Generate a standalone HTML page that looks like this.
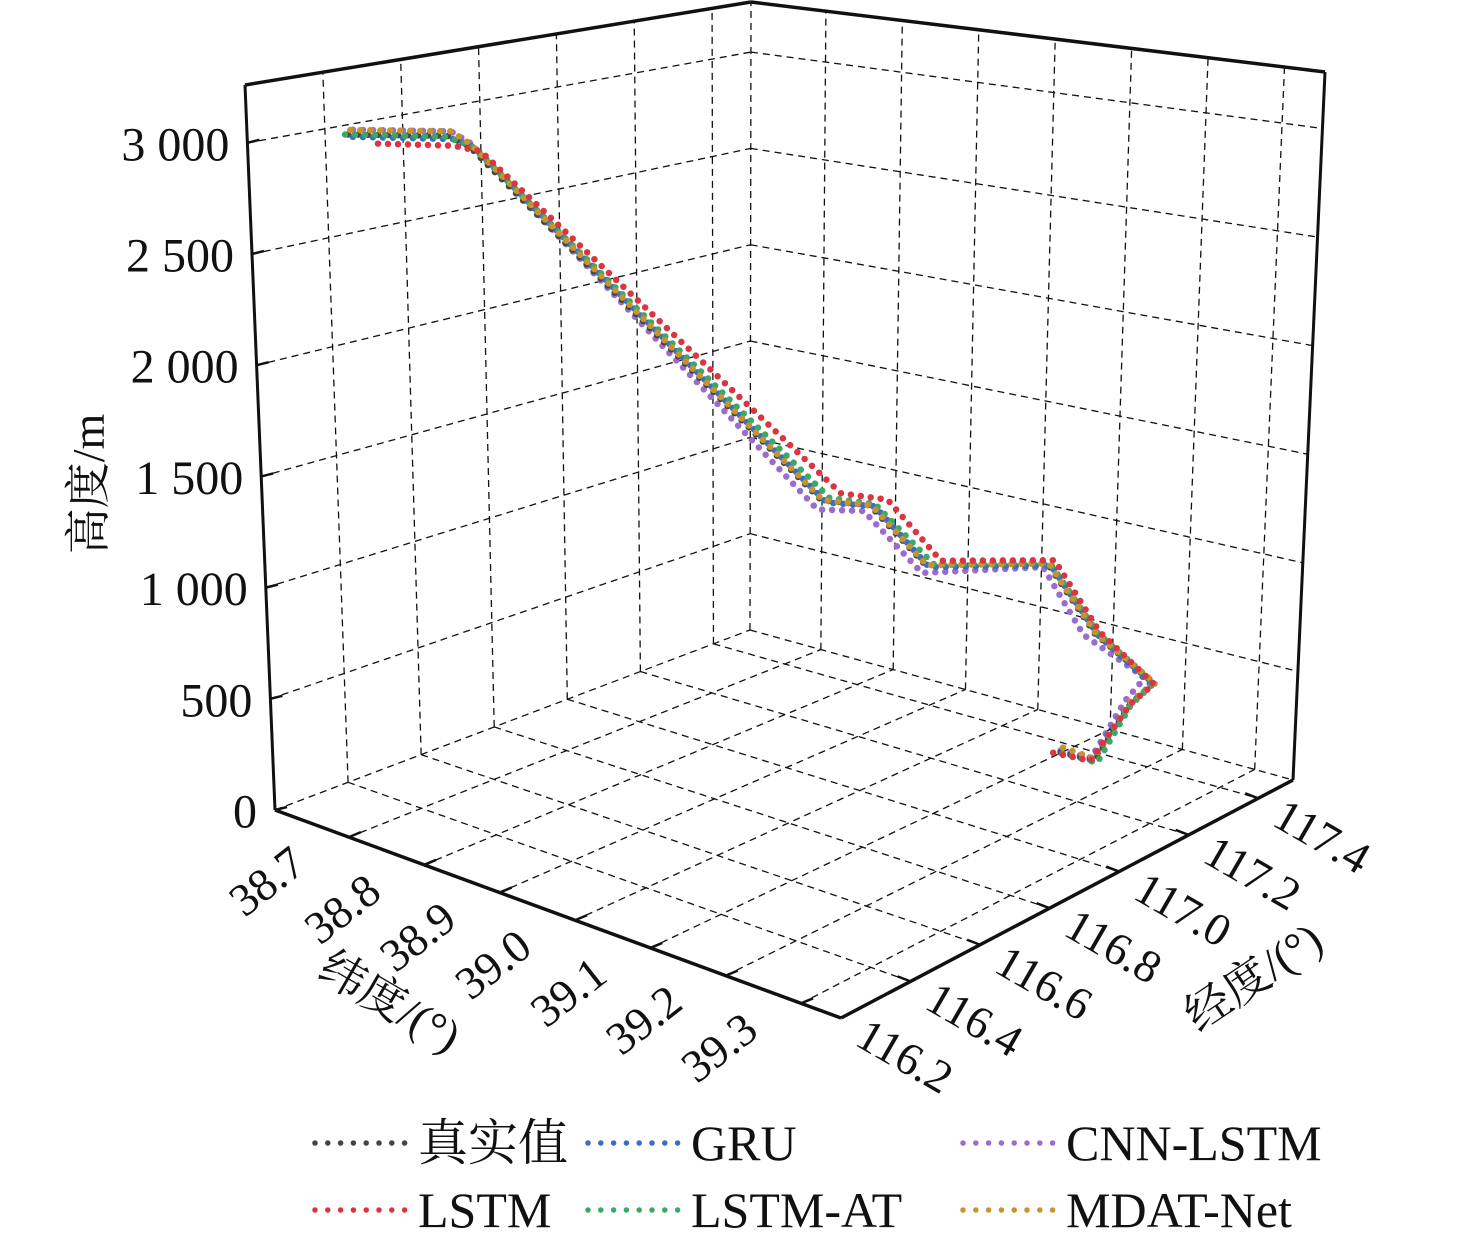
<!DOCTYPE html>
<html><head><meta charset="utf-8">
<style>
html,body{margin:0;padding:0;background:#fff;}
svg{display:block;}
text{font-family:"Liberation Serif","Noto Serif CJK SC","Noto Sans CJK SC",serif;fill:#111;}
</style></head>
<body>
<svg id="chart" width="1476" height="1242" viewBox="0 0 1476 1242" xmlns="http://www.w3.org/2000/svg">
<g id="grid"></g>
<g id="box"></g>
<g id="ticks"></g>
<g id="series"></g>
<text x="0" y="0" font-size="46" transform="translate(104,484) rotate(-90)" text-anchor="middle">高度/m</text>
<text x="0" y="0" font-size="46" transform="translate(382,1015) rotate(30)" text-anchor="middle">纬度/(°)</text>
<text x="0" y="0" font-size="46" transform="translate(1262,990) rotate(-34)" text-anchor="middle">经度/(°)</text>
<g id="legend"></g>
</svg>
<script>
// axis ranges
const latRange = [38.602, 39.353];
const lonRange = [116.2, 117.5];
const zMax = 3260;
// tick labels
const zTicks = [0, 500, 1000, 1500, 2000, 2500, 3000];
const zTickLabels = ["0", "500", "1 000", "1 500", "2 000", "2 500", "3 000"];
const latTicks = [38.7, 38.8, 38.9, 39.0, 39.1, 39.2, 39.3];
const latTickLabels = ["38.7", "38.8", "38.9", "39.0", "39.1", "39.2", "39.3"];
const lonTicks = [116.2, 116.4, 116.6, 116.8, 117.0, 117.2, 117.4];
const lonTickLabels = ["116.2", "116.4", "116.6", "116.8", "117.0", "117.2", "117.4"];
// series names
const seriesNames = ["真实值", "GRU", "CNN-LSTM", "LSTM", "LSTM-AT", "MDAT-Net"];
// true trajectory
const trueLat = [38.640, 38.703, 38.727, 39.006, 39.045, 39.086, 39.179, 39.225, 39.271, 39.272, 39.238, 39.191];
const trueLon = [116.383, 116.512, 116.518, 116.876, 116.928, 116.998, 117.144, 117.186, 117.260, 117.194, 117.167, 117.160];
const trueAlt = [3010, 3010, 2980, 1420, 1400, 1120, 1110, 800, 560, 520, 250, 250];
// GRU
const gruLat = [38.643, 38.707, 38.731, 39.010, 39.049, 39.089, 39.182, 39.228, 39.270, 39.270, 39.235, 39.188];
const gruLon = [116.389, 116.519, 116.524, 116.882, 116.934, 117.002, 117.148, 117.188, 117.256, 117.188, 117.162, 117.155];
const gruAlt = [3000, 2995, 2975, 1410, 1395, 1110, 1100, 795, 555, 515, 250, 255];
// CNN-LSTM
const cnnLat = [38.642, 38.705, 38.728, 39.004, 39.041, 39.084, 39.176, 39.217, 39.265, 39.268, 39.234, 39.189];
const cnnLon = [116.392, 116.517, 116.522, 116.870, 116.920, 116.993, 117.138, 117.170, 117.247, 117.186, 117.165, 117.158];
const cnnAlt = [3030, 3030, 2990, 1380, 1375, 1085, 1095, 800, 590, 535, 260, 260];
// LSTM
const lstmLat = [38.655, 38.707, 38.736, 39.020, 39.059, 39.099, 39.185, 39.229, 39.272, 39.273, 39.235, 39.186];
const lstmLon = [116.429, 116.519, 116.532, 116.900, 116.948, 117.014, 117.151, 117.190, 117.258, 117.190, 117.162, 117.151];
const lstmAlt = [2965, 2965, 2955, 1450, 1425, 1140, 1125, 810, 560, 520, 250, 250];
// LSTM-AT
const atLat = [38.638, 38.701, 38.728, 39.012, 39.049, 39.093, 39.181, 39.227, 39.272, 39.273, 39.240, 39.192];
const atLon = [116.379, 116.509, 116.520, 116.886, 116.934, 117.006, 117.147, 117.188, 117.258, 117.192, 117.170, 117.157];
const atAlt = [3010, 3005, 2985, 1430, 1405, 1125, 1110, 805, 565, 515, 240, 250];
// MDAT-Net
const mdatLat = [38.641, 38.705, 38.728, 39.007, 39.046, 39.087, 39.180, 39.226, 39.272, 39.271, 39.237, 39.194];
const mdatLon = [116.387, 116.517, 116.520, 116.878, 116.930, 117.000, 117.145, 117.187, 117.262, 117.194, 117.166, 117.165];
const mdatAlt = [3030, 3030, 2990, 1420, 1400, 1118, 1110, 800, 560, 525, 260, 270];

const seriesColors = ["#454545", "#3d6cc6", "#9a6ccb", "#dc3440", "#3aa867", "#c8922c"];

const NS = "http://www.w3.org/2000/svg";
const FA=[275,810], FB=[841,1018], FC=[1293,780], FD=[750,630];
const TA=[245,85], TB=[842,220], TC=[1325,72], TD=[751,2];
function bil(P,Q,R,S,u,v){
  return [ (1-u)*(1-v)*P[0]+u*(1-v)*Q[0]+u*v*R[0]+(1-u)*v*S[0],
           (1-u)*(1-v)*P[1]+u*(1-v)*Q[1]+u*v*R[1]+(1-u)*v*S[1] ];
}
function proj(lat,lon,z){
  const u=(lat-latRange[0])/(latRange[1]-latRange[0]);
  const v=(lon-lonRange[0])/(lonRange[1]-lonRange[0]);
  const w=z/zMax;
  const b=bil(FA,FB,FC,FD,u,v), t=bil(TA,TB,TC,TD,u,v);
  return [b[0]+(t[0]-b[0])*w, b[1]+(t[1]-b[1])*w];
}
function line(g,p,q,dash,width,name){
  const l=document.createElementNS(NS,"line");
  
  
  l.setAttribute("x1",p[0]);l.setAttribute("y1",p[1]);l.setAttribute("x2",q[0]);l.setAttribute("y2",q[1]);
  l.setAttribute("stroke","#111");l.setAttribute("stroke-width",width);
  if(dash) l.setAttribute("stroke-dasharray",dash);
  g.appendChild(l);
}
function text(g,x,y,str,size,anchor,rot,name){
  const t=document.createElementNS(NS,"text");
  
  
  t.setAttribute("font-size",size);
  t.setAttribute("text-anchor",anchor);
  t.setAttribute("dominant-baseline","central");
  t.setAttribute("transform","translate("+x+","+y+") rotate("+rot+")");
  t.textContent=str;
  g.appendChild(t);
}
const grid=document.getElementById("grid");
const box=document.getElementById("box");
const ticks=document.getElementById("ticks");
const L0=latRange[0],L1=latRange[1],O0=lonRange[0],O1=lonRange[1];
const D="7 5";
zTicks.forEach(z=>{
  line(grid,proj(L0,O0,z),proj(L0,O1,z),D,1.3,"z-grid-left-wall");
  line(grid,proj(L0,O1,z),proj(L1,O1,z),D,1.3,"z-grid-right-wall");
});
line(grid,proj(L0,O1,0),proj(L0,O1,zMax),D,1.3,"back-corner-line");
lonTicks.forEach(o=>{
  if(o<=O0+1e-6) return;
  line(grid,proj(L0,o,0),proj(L0,o,zMax),D,1.3,"lon-grid-wall");
  line(grid,proj(L0,o,0),proj(L1,o,0),D,1.3,"lon-grid-floor");
});
latTicks.forEach(a=>{
  line(grid,proj(a,O1,0),proj(a,O1,zMax),D,1.3,"lat-grid-wall");
  line(grid,proj(a,O0,0),proj(a,O1,0),D,1.3,"lat-grid-floor");
});
line(box,proj(L0,O0,0),proj(L0,O0,zMax),null,3,"z-axis-line");
line(box,proj(L0,O0,zMax),proj(L0,O1,zMax),null,3.5,"top-edge-left");
line(box,proj(L0,O1,zMax),proj(L1,O1,zMax),null,3.5,"top-edge-right");
line(box,proj(L1,O1,zMax),proj(L1,O1,0),null,3,"right-edge");
line(box,proj(L0,O0,0),proj(L1,O0,0),null,3.5,"lat-axis-line");
line(box,proj(L1,O0,0),proj(L1,O1,0),null,3.5,"lon-axis-line");
zTicks.forEach((z,i)=>{
  const p=proj(L0,O0,z);
  line(ticks,p,[p[0]+12,p[1]-3],null,2.5,"z-tick");
  text(ticks,p[0]-18,p[1]+2,zTickLabels[i],48,"end",0,"z-tick-label");
});
latTicks.forEach((a,i)=>{
  const p=proj(a,O0,0);
  line(ticks,p,[p[0]+12,p[1]-5],null,2.5,"lat-tick");
  text(ticks,p[0]-82,p[1]+44,latTickLabels[i],46,"middle",-38,"lat-tick-label");
});
lonTicks.forEach((o,i)=>{
  const p=proj(L1,o,0);
  line(ticks,p,[p[0]-13,p[1]-5],null,2.5,"lon-tick");
  text(ticks,p[0]+64,p[1]+38,lonTickLabels[i],46,"middle",30,"lon-tick-label");
});
const sLat=[trueLat,gruLat,cnnLat,lstmLat,atLat,mdatLat];
const sLon=[trueLon,gruLon,cnnLon,lstmLon,atLon,mdatLon];
const sAlt=[trueAlt,gruAlt,cnnAlt,lstmAlt,atAlt,mdatAlt];
const seriesKeys=["true","gru","cnn-lstm","lstm","lstm-at","mdat-net"];
const order=[2,0,1,4,5,3];
const sg=document.getElementById("series");
order.forEach(k=>{
  const pts=sLat[k].map((a,i)=>proj(a,sLon[k][i],sAlt[k][i]));
  const pl=document.createElementNS(NS,"polyline");
  
  
  pl.setAttribute("points",pts.map(p=>p[0].toFixed(1)+","+p[1].toFixed(1)).join(" "));
  pl.setAttribute("fill","none");
  pl.setAttribute("stroke",seriesColors[k]);
  pl.setAttribute("stroke-width",6.5);
  pl.setAttribute("stroke-linecap","round");
  pl.setAttribute("stroke-dasharray","0 10");
  sg.appendChild(pl);
});
const lg=document.getElementById("legend");
const legX=[312,585,960], legY=[1143,1210];
seriesNames.forEach((n,i)=>{
  const col=i%3, row=Math.floor(i/3);
  const x=legX[col], y=legY[row];
  const g=document.createElementNS(NS,"g");
  
  
  const l=document.createElementNS(NS,"line");
  
  
  l.setAttribute("x1",x+3);l.setAttribute("x2",x+93);l.setAttribute("y1",y);l.setAttribute("y2",y);
  l.setAttribute("stroke",seriesColors[i]);l.setAttribute("stroke-width",5.5);
  l.setAttribute("stroke-linecap","round");l.setAttribute("stroke-dasharray","0 12.8");
  g.appendChild(l);
  const t=document.createElementNS(NS,"text");
  
  
  t.setAttribute("x",x+106);t.setAttribute("y",y+17);t.setAttribute("font-size",50);
  t.textContent=n;
  g.appendChild(t);
  lg.appendChild(g);
});
</script>
</body></html>
